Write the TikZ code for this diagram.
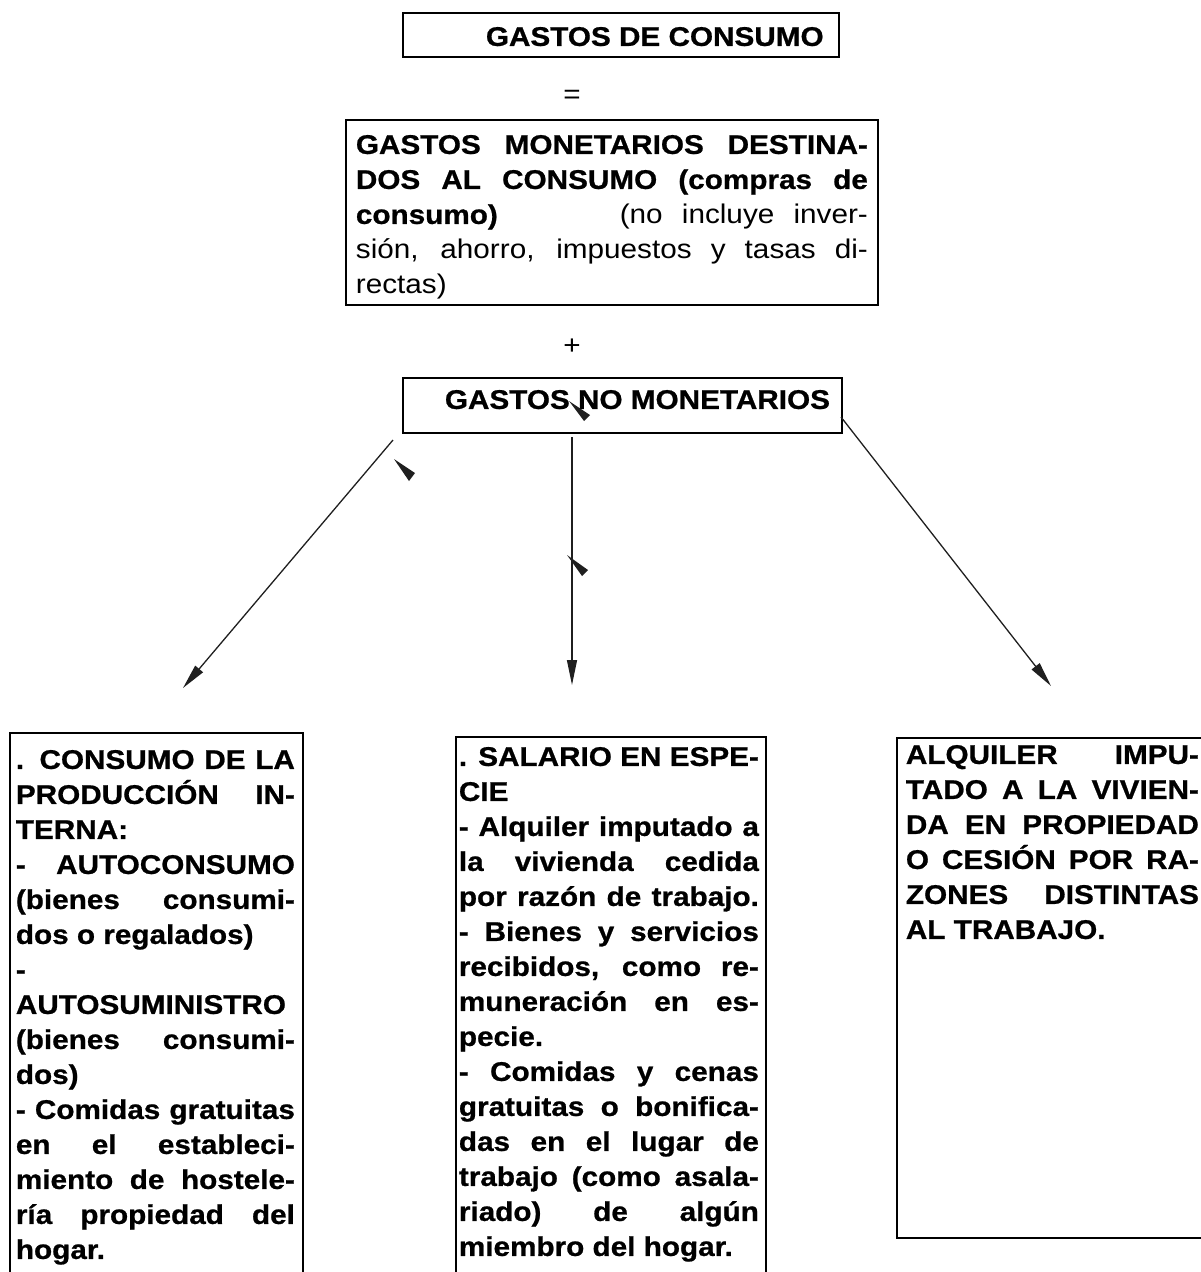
\documentclass[tikz,border=0pt]{standalone}
\usepackage{fontspec}
\setmainfont{Liberation Sans}[FakeStretch=1.1, BoldFeatures={FakeBold=0.8}]
\usetikzlibrary{arrows.meta}
\tikzset{
  frame/.style={draw, line width=1.8pt, inner sep=0pt, anchor=north west,
    font=\fontsize{27}{35}\selectfont\bfseries},
  conn/.style={line width=1.3pt, draw=black!88, -{Triangle[length=25pt,width=10pt]}},
  sign/.style={font=\fontsize{27}{35}\selectfont, inner sep=0pt},
  stray/.style={fill=black!88},
}
\newcommand\jl[1]{\makebox[\linewidth][s]{#1}}
\newcommand\bx[6]{\parbox[t][#1][t]{#2}{\hspace*{#3}\parbox[t]{#4}{\rule{0pt}{#5}#6}}}
\begin{document}
\begin{tikzpicture}[x=1pt,y=-1pt]
\useasboundingbox (0,0) rectangle (1201,1272);

% top boxes
\node[frame] (gc) at (402,12) {\bx{44pt}{436pt}{83pt}{345pt}{33pt}{GASTOS DE CONSUMO}};
\node[sign] (eq) at (572,97) {=};
\node[frame] (gm) at (345,119) {\bx{185pt}{532pt}{10pt}{512pt}{34pt}{%
\jl{GASTOS MONETARIOS DESTINA-}\\
\jl{DOS AL CONSUMO (compras de}\\
\jl{consumo)\hspace{122pt}\mdseries(no incluye inver-}\\
\jl{\mdseries sión, ahorro, impuestos y tasas di-}\\
{\mdseries rectas)}}};
\node[sign] (plus) at (572,347) {+};
\node[frame] (nm) at (402,377) {\bx{55pt}{439pt}{42pt}{395pt}{31pt}{GASTOS NO MONETARIOS}};

% bottom boxes
\node[frame] (cl) at (9,732) {\bx{600pt}{293pt}{6pt}{279pt}{36pt}{%
\jl{. CONSUMO DE LA}\\
\jl{PRODUCCIÓN IN-}\\
TERNA:\\
\jl{- AUTOCONSUMO}\\
\jl{(bienes consumi-}\\
dos o regalados)\\
-\\
AUTOSUMINISTRO\\
\jl{(bienes consumi-}\\
dos)\\
\jl{- Comidas gratuitas}\\
\jl{en el estableci-}\\
\jl{miento de hostele-}\\
\jl{ría propiedad del}\\
hogar.}};

\node[frame] (sal) at (455,736) {\bx{600pt}{310pt}{3pt}{300pt}{29pt}{%
\jl{. SALARIO EN ESPE-}\\
CIE\\
\jl{- Alquiler imputado a}\\
\jl{la vivienda cedida}\\
\jl{por razón de trabajo.}\\
\jl{- Bienes y servicios}\\
\jl{recibidos, como re-}\\
\jl{muneración en es-}\\
pecie.\\
\jl{- Comidas y cenas}\\
\jl{gratuitas o bonifica-}\\
\jl{das en el lugar de}\\
\jl{trabajo (como asala-}\\
\jl{riado) de algún}\\
miembro del hogar.}};

\node[frame] (alq) at (896,737) {\bx{500pt}{330pt}{9pt}{293pt}{26pt}{%
\jl{ALQUILER IMPU-}\\
\jl{TADO A LA VIVIEN-}\\
\jl{DA EN PROPIEDAD}\\
\jl{O CESIÓN POR RA-}\\
\jl{ZONES DISTINTAS}\\
AL TRABAJO.}};

% connectors
\coordinate (lA) at (393,440);
\coordinate (lB) at (183,688);
\coordinate (mA) at (572,437);
\coordinate (mB) at (572,685);
\coordinate (rA) at (841,417);
\coordinate (rB) at (1051,686);
\draw[conn] (lA) -- (lB);
\draw[conn] (mA) -- (mB);
\draw[conn] (rA) -- (rB);

% stray arrowheads
\fill[stray] (394,459) -- (415,473) -- (409,481) -- cycle;
\fill[stray] (569,401) -- (590,415) -- (584,421) -- cycle;
\fill[stray] (567,555) -- (588,570) -- (582,576) -- cycle;
\end{tikzpicture}
\end{document}
